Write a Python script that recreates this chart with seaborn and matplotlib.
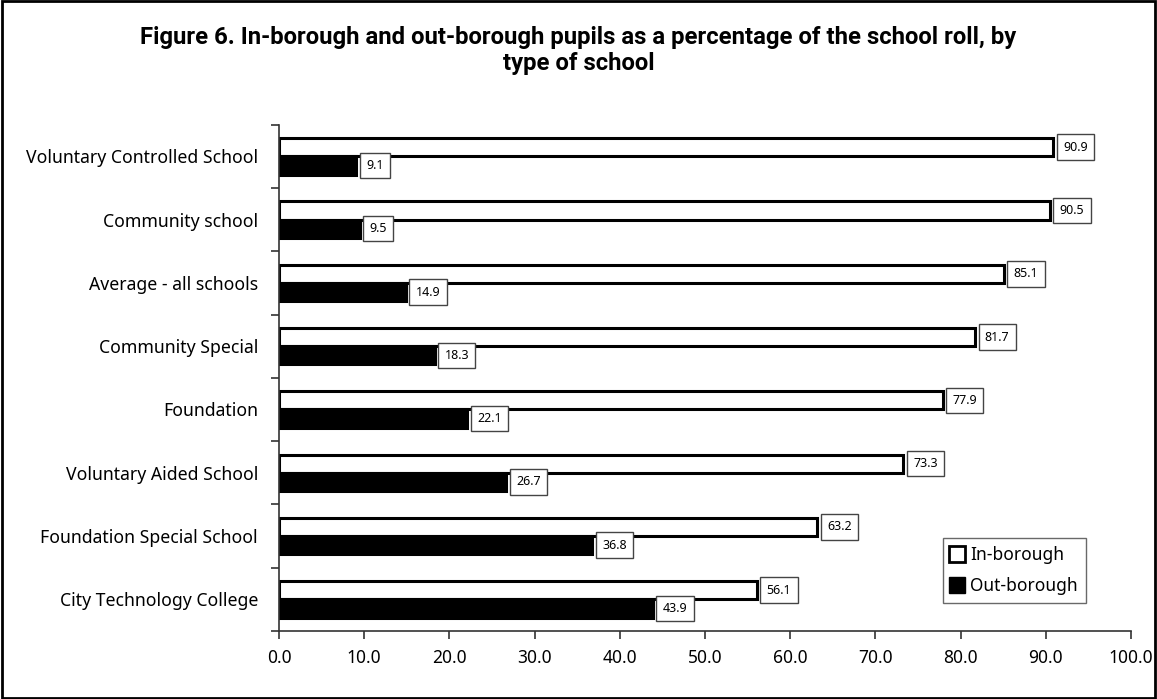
import numpy as np
import pandas as pd
import matplotlib
matplotlib.use("Agg")
import matplotlib.pyplot as plt
from matplotlib.patches import Rectangle
from matplotlib.lines import Line2D
import seaborn as sns

# School types, top to bottom
schools = [
    "Voluntary Controlled School",
    "Community school",
    "Average - all schools",
    "Community Special",
    "Foundation",
    "Voluntary Aided School",
    "Foundation Special School",
    "City Technology College",
]
in_borough = [90.9, 90.5, 85.1, 81.7, 77.9, 73.3, 63.2, 56.1]
out_borough = [9.1, 9.5, 14.9, 18.3, 22.1, 26.7, 36.8, 43.9]
series = ["In-borough", "Out-borough"]
x_ticks = [0, 10, 20, 30, 40, 50, 60, 70, 80, 90, 100]

df = pd.DataFrame({
    "school": schools * 2,
    "pct": in_borough + out_borough,
    "pupils": [series[0]] * len(schools) + [series[1]] * len(schools),
})

sns.set_theme(style="white")
plt.rcParams["font.family"] = ["Noto Sans", "DejaVu Sans"]
plt.rcParams["text.color"] = "black"
plt.rcParams["xtick.color"] = "black"
plt.rcParams["ytick.color"] = "black"
plt.rcParams["axes.labelcolor"] = "black"

fig = plt.figure(figsize=(11.57, 6.99), dpi=100)
ax = fig.add_axes([0.2411, 0.0973, 0.7364, 0.7243])

sns.barplot(
    data=df, x="pct", y="school", hue="pupils", order=schools,
    hue_order=series, palette=["white", "black"], orient="h",
    width=0.575, edgecolor="black", linewidth=2.2, legend=False, ax=ax,
)

for container in ax.containers:
    ax.bar_label(
        container, fmt="%.1f", padding=7, fontsize=9, color="black",
        bbox=dict(boxstyle="square,pad=0.5", fc="white", ec="#444444", lw=1.0),
    )

ax.set_xlim(0, 100)
ax.set_ylim(len(schools) - 0.5, -0.5)
ax.set_xticks(x_ticks)
ax.set_xticklabels([f"{v:.1f}" for v in x_ticks], fontsize=12.5)
ax.set_yticks(range(len(schools)))
ax.set_yticklabels(schools, fontsize=12.7)
ax.set_yticks(np.arange(-0.5, len(schools), 1), minor=True)
ax.tick_params(axis="y", which="major", length=0, pad=15)
ax.tick_params(axis="y", which="minor", left=True, length=6, width=1.2, color="#333333")
ax.tick_params(axis="x", which="major", bottom=True, length=6, width=1.2,
               color="#333333", pad=7)
ax.set_xlabel("")
ax.set_ylabel("")
for side in ("top", "right"):
    ax.spines[side].set_visible(False)
for side in ("left", "bottom"):
    ax.spines[side].set_color("#333333")
    ax.spines[side].set_linewidth(1.2)

handles = [
    Line2D([], [], marker="s", linestyle="none", markersize=11,
           markerfacecolor="white", markeredgecolor="black", markeredgewidth=2),
    Line2D([], [], marker="s", linestyle="none", markersize=11,
           markerfacecolor="black", markeredgecolor="black"),
]
leg = ax.legend(
    handles, series, loc="lower right", bbox_to_anchor=(0.947, 0.055),
    borderaxespad=0, fontsize=12.5, frameon=True, fancybox=False,
    handlelength=0.7, handletextpad=0.4, borderpad=0.45, labelspacing=0.75,
)
leg.get_frame().set_edgecolor("#444444")
leg.get_frame().set_linewidth(1.0)

fig.suptitle(
    "Figure 6. In-borough and out-borough pupils as a percentage of the school roll, by\ntype of school",
    x=0.5, y=0.963, fontsize=17.2, fontweight="bold", color="black",
    family=["Roboto", "DejaVu Sans"], linespacing=1.2,
)

fig.patches.append(Rectangle((0.002, 0.002), 0.996, 0.996, transform=fig.transFigure,
                             fill=False, edgecolor="black", linewidth=2))

fig.savefig("out.png", dpi=100)
